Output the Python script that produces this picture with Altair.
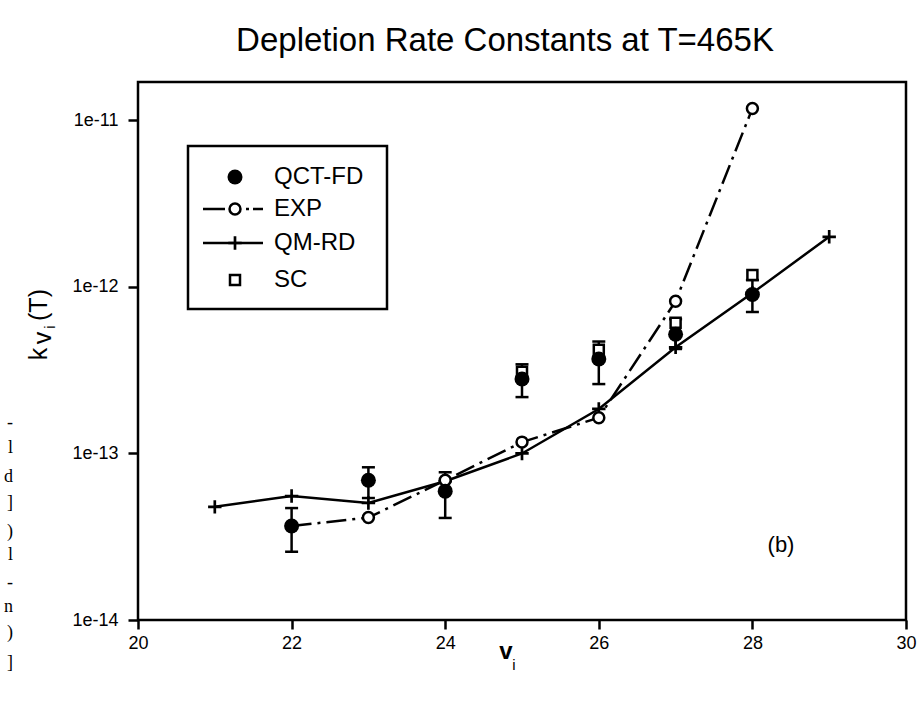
import altair as alt
import pandas as pd

# ---- data ----
v_qct = [22, 23, 24, 25, 26, 27, 28]
k_qct = [3.67e-14, 6.9e-14, 5.94e-14, 2.8e-13, 3.69e-13, 5.2e-13, 9.0e-13]
k_qct_lo = [2.57e-14, 5.4e-14, 4.1e-14, 2.18e-13, 2.61e-13, 4.24e-13, 7.07e-13]
k_qct_hi = [4.7e-14, 8.26e-14, 7.71e-14, 3.43e-13, 4.7e-13, 6.4e-13, 1.1e-12]

v_exp = [22, 23, 24, 25, 26, 27, 28]
k_exp = [3.67e-14, 4.12e-14, 6.9e-14, 1.17e-13, 1.64e-13, 8.2e-13, 1.18e-11]

v_qm = [21, 22, 23, 24, 25, 26, 27, 28, 29]
k_qm = [4.78e-14, 5.55e-14, 5.04e-14, 6.81e-14, 1.0e-13, 1.85e-13, 4.34e-13, 9.2e-13, 2.0e-12]

v_sc = [25, 26, 27, 28]
k_sc = [3.1e-13, 4.2e-13, 6.1e-13, 1.18e-12]

x_ticks = [20, 22, 24, 26, 28, 30]
y_ticks = [1e-14, 1e-13, 1e-12, 1e-11]

legend_names = ["QCT-FD", "EXP", "QM-RD", "SC"]
edge_fragments = ["-", "l", "d", "]", ")", "l", "-", "n", ")", "]"]

qct = pd.DataFrame({"v": v_qct, "k": k_qct, "lo": k_qct_lo, "hi": k_qct_hi})
exp = pd.DataFrame({"v": v_exp, "k": k_exp})
qm = pd.DataFrame({"v": v_qm, "k": k_qm})
sc = pd.DataFrame({"v": v_sc, "k": k_sc})

W, H = 768, 538
FONT = "Liberation Sans"
LW = 2.5
DASH = [20, 6, 3, 6]
PLUS = "M-1,-0.2H1V0.2H-1Z M-0.2,-1H0.2V1H-0.2Z"

xs = alt.Scale(domain=[20, 30], nice=False)
ys = alt.Scale(type="log", domain=[1e-14, 1.7e-11], nice=False)

xaxis = alt.Axis(values=x_ticks, title=None, format="d", grid=False, domain=False,
                 tickSize=9, tickWidth=LW, tickColor="black", labelPadding=5,
                 labelFont=FONT, labelFontSize=18, labelColor="black", labelFlush=False)
yaxis = alt.Axis(values=y_ticks, title=None, format=".0e", grid=False, domain=False,
                 tickSize=10, tickWidth=LW, tickColor="black", labelPadding=10,
                 labelFont=FONT, labelFontSize=18, labelColor="black", labelFlush=False)

X = alt.X("v:Q", scale=xs, axis=xaxis)
Y = alt.Y("k:Q", scale=ys, axis=yaxis)
Ylo = alt.Y("lo:Q", scale=ys, axis=yaxis)
Yhi = alt.Y("hi:Q", scale=ys, axis=yaxis)

exp_line = alt.Chart(exp).mark_line(color="black", strokeWidth=LW, strokeDash=DASH).encode(x=X, y=Y)
qm_line = alt.Chart(qm).mark_line(color="black", strokeWidth=LW).encode(x=X, y=Y)
qm_pts = alt.Chart(qm).mark_point(shape=PLUS, size=180, filled=True, color="black", opacity=1).encode(x=X, y=Y)

err_rule = alt.Chart(qct).mark_rule(color="black", strokeWidth=LW).encode(x=X, y=Ylo, y2="hi:Q")
cap_lo = alt.Chart(qct).mark_tick(orient="horizontal", color="black", size=13, thickness=LW, opacity=1).encode(
    x=X, y=Ylo)
cap_hi = alt.Chart(qct).mark_tick(orient="horizontal", color="black", size=13, thickness=LW, opacity=1).encode(
    x=X, y=Yhi)

exp_pts = alt.Chart(exp).mark_point(shape="circle", size=120, fill="white", fillOpacity=1,
                                    stroke="black", strokeWidth=LW, opacity=1).encode(x=X, y=Y)
sc_pts = alt.Chart(sc).mark_point(shape="square", size=100, fill="white", fillOpacity=1,
                                  stroke="black", strokeWidth=LW, opacity=1).encode(x=X, y=Y)
qct_pts = alt.Chart(qct).mark_point(shape="circle", size=225, filled=True, color="black", opacity=1).encode(x=X, y=Y)

# ---- decorations: legend, texts (layout only) ----
one = pd.DataFrame({"a": [0]})

def txt(s, x, y, size=22, weight="normal", angle=0, align="left", baseline="middle", font=FONT):
    kw = dict(text=s, fontSize=size, fontWeight=weight, font=font, align=align,
              baseline=baseline, color="black")
    if angle:
        kw["angle"] = angle
    return alt.Chart(one).mark_text(**kw).encode(x=alt.value(x), y=alt.value(y))

OX, OY = 138, 82
def ax(x):
    return x - OX
def ay(y):
    return y - OY

leg_box = alt.Chart(one).mark_rect(fill="white", stroke="black", strokeWidth=LW).encode(
    x=alt.value(ax(188)), x2=alt.value(ax(387)), y=alt.value(ay(146)), y2=alt.value(ay(309)))
leg_exp_line = alt.Chart(one).mark_rule(color="black", strokeWidth=LW, strokeDash=[22, 21, 3, 4, 12]).encode(
    x=alt.value(ax(203)), x2=alt.value(ax(263)), y=alt.value(ay(209)))
leg_qm_line = alt.Chart(one).mark_rule(color="black", strokeWidth=LW).encode(
    x=alt.value(ax(203)), x2=alt.value(ax(263)), y=alt.value(ay(243)))
leg_qct = alt.Chart(one).mark_point(shape="circle", size=225, filled=True, color="black", opacity=1).encode(
    x=alt.value(ax(235)), y=alt.value(ay(177)))
leg_exp = alt.Chart(one).mark_point(shape="circle", size=120, fill="white", fillOpacity=1, stroke="black",
                                    strokeWidth=LW, opacity=1).encode(x=alt.value(ax(235)), y=alt.value(ay(209)))
leg_qm = alt.Chart(one).mark_point(shape=PLUS, size=180, filled=True, color="black", opacity=1).encode(
    x=alt.value(ax(235)), y=alt.value(ay(243)))
leg_sc = alt.Chart(one).mark_point(shape="square", size=100, fill="white", fillOpacity=1, stroke="black",
                                   strokeWidth=LW, opacity=1).encode(x=alt.value(ax(235)), y=alt.value(ay(280)))

leg_y = [177, 209, 243, 280]
labels = [txt(n, ax(274), ay(yy), size=24) for n, yy in zip(legend_names, leg_y)]
labels += [
    txt("Depletion Rate Constants at T=465K", ax(505), ay(41), size=33, align="center"),
    txt("(b)", ax(781), ay(545), size=22, align="center"),
    # x title v_i
    txt("v", ax(506), ay(652), size=24, weight="bold", align="center"),
    txt("i", ax(514), ay(665), size=15, align="center"),
    # y title k_{v_i}(T)
    txt("k", ax(39), ay(354), size=25, angle=270, align="center"),
    txt("v", ax(43), ay(338), size=25, angle=270, align="center"),
    txt("i", ax(50), ay(327), size=15, angle=270, align="center"),
    txt("(T)", ax(39), ay(305), size=25, angle=270, align="center"),
]
frag_y = [423, 448, 477, 503, 532, 555, 583, 607, 633, 663]
labels += [txt(c, ax(13), ay(yy), size=18, align="right", font="Liberation Serif")
           for c, yy in zip(edge_fragments, frag_y)]

chart = alt.layer(
    exp_line, qm_line, err_rule, cap_lo, cap_hi, qm_pts, exp_pts, sc_pts, qct_pts,
    leg_box, leg_exp_line, leg_qm_line, leg_qct, leg_exp, leg_qm, leg_sc, *labels
).properties(
    width=W, height=H,
    autosize="none",
    padding={"left": OX, "top": OY, "right": 918 - OX - W, "bottom": 717 - OY - H},
    background="white",
).configure_view(
    stroke="black", strokeWidth=LW
)

chart.save("out.html", embed_options={"renderer": "svg", "actions": False})
